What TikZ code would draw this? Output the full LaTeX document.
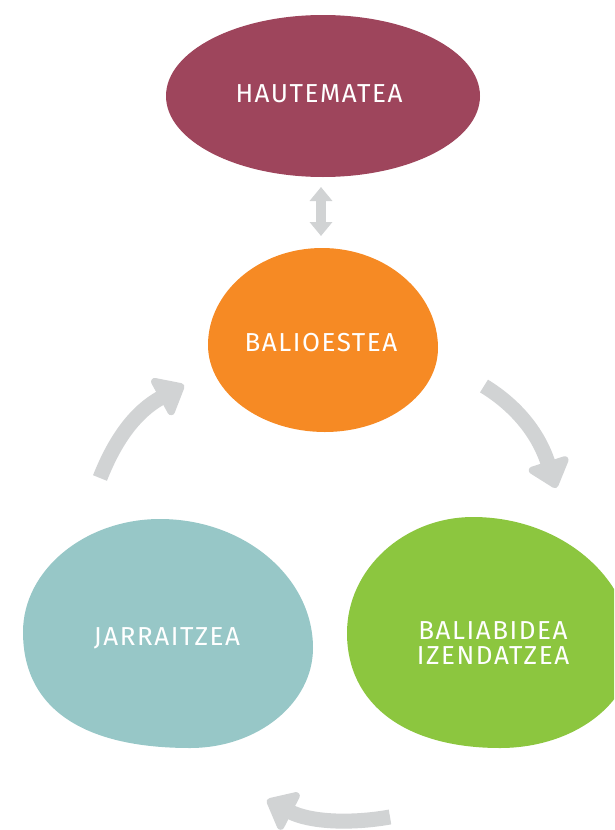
\documentclass[tikz,border=0pt]{standalone}
\usepackage{fontspec}
\setmainfont{Fira Sans}[LetterSpace=6]
\usetikzlibrary{arrows.meta}
\definecolor{maroon}{HTML}{9E455C}
\definecolor{orng}{HTML}{F68A24}
\definecolor{teal2}{HTML}{97C7C7}
\definecolor{grn}{HTML}{8CC63F}
\definecolor{gry}{HTML}{D1D3D4}
\tikzset{
  lbl/.style={text=white, font=\fontsize{26}{29}\selectfont, align=center},
  cyclearrow/.style={draw=gry, line width=15pt, -{Triangle[width=48pt,length=30pt,round]}},
}
\begin{document}
\begin{tikzpicture}[x=1pt,y=-1pt]
\useasboundingbox (0,0) rectangle (614,830);
\clip (0,0) rectangle (614,830);
% blobs
\fill[maroon] (323,96) ellipse [x radius=157, y radius=81];
\fill[orng] (208,345) .. controls (208,292) and (259,248) .. (322,248)
  .. controls (386,248) and (438,293) .. (438,348)
  .. controls (438,394) and (387,432) .. (325,432)
  .. controls (261,432) and (208,393) .. cycle;
\fill[teal2] (23,632) .. controls (23,570) and (85,519) .. (160,519)
  .. controls (244,519) and (313,577) .. (313,648)
  .. controls (313,703) and (258,748) .. (190,748)
  .. controls (81,748) and (23,707) .. cycle;
\fill[grn] (347,633) .. controls (347,569) and (404,517) .. (473,517)
  .. controls (560,517) and (632,577) .. (632,650)
  .. controls (632,704) and (573,748) .. (500,748)
  .. controls (405,748) and (347,704) .. cycle;
% labels
\node[lbl] (haute) at (319,94) {HAUTEMATEA};
\node[lbl] (balio) at (321,343) {BALIOESTEA};
\node[lbl] (jarr) at (167,638) {JARRAITZEA};
\node[lbl] (balia) at (493,643) {BALIABIDEA\\[-4pt]IZENDATZEA};
% arrows
\coordinate (dtop) at (321,187);
\coordinate (dbot) at (321,236);
\draw[draw=gry, line width=10pt, {Triangle[width=22pt,length=14pt]}-{Triangle[width=22pt,length=14pt]}] (dtop) -- (dbot);
\coordinate (la) at (100,478);
\coordinate (lb) at (184,385);
\draw[cyclearrow] (la) .. controls (115,440) and (135,412) .. (lb);
\coordinate (ra) at (484,386);
\coordinate (rb) at (556,488);
\draw[cyclearrow] (ra) .. controls (515,405) and (538,432) .. (rb);
\coordinate (ba) at (390,817);
\coordinate (bb) at (267,800);
\draw[cyclearrow] (ba) .. controls (350,824) and (310,822) .. (bb);
\end{tikzpicture}
\end{document}
